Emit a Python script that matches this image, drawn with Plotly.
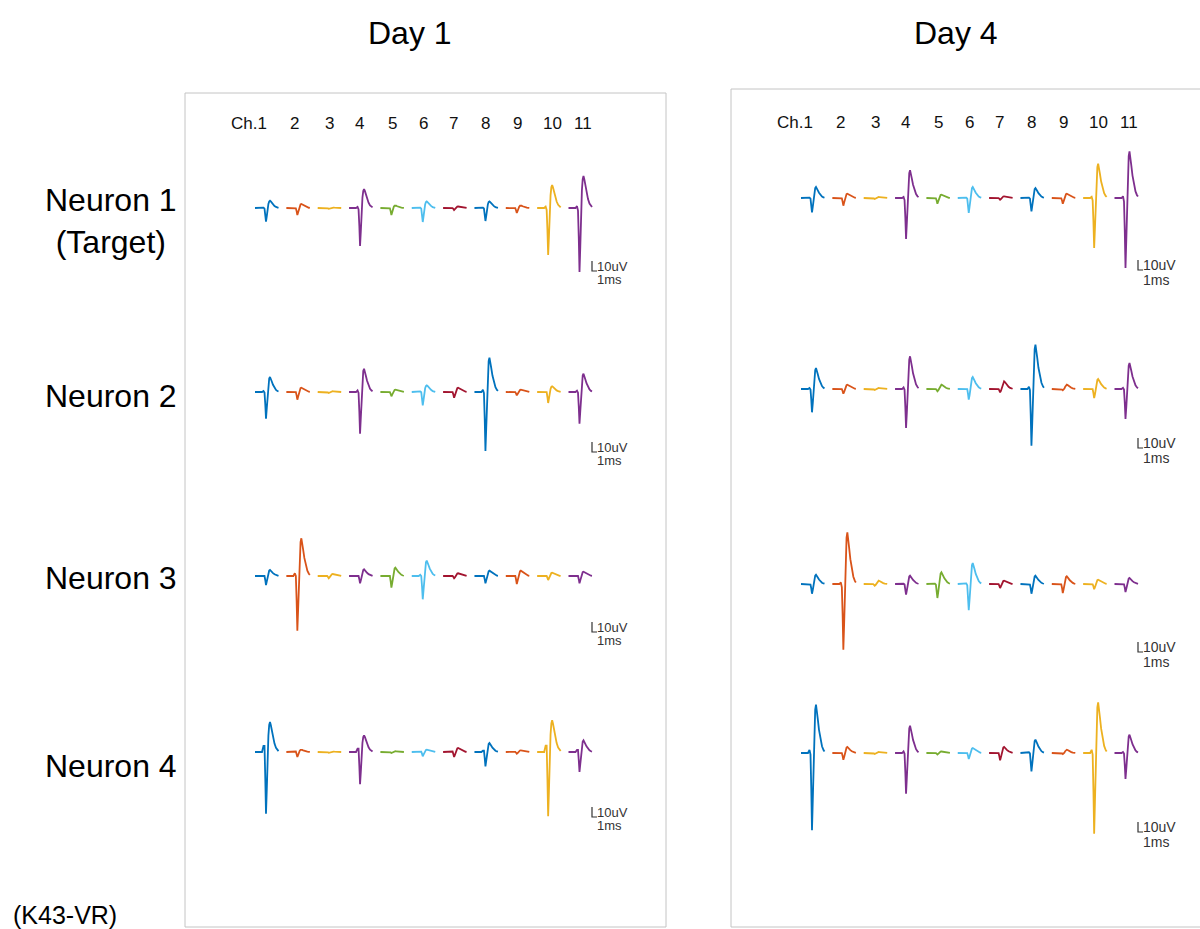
import plotly.graph_objects as go

# ---------------------------------------------------------------------------
# Data
# ---------------------------------------------------------------------------
CHANNEL_LABELS = ["Ch.1", "2", "3", "4", "5", "6", "7", "8", "9", "10", "11"]
CHANNEL_COLORS = ["#0072BD", "#D95319", "#EDB120", "#7E2F8E", "#77AC30", "#4DBEEE",
                  "#A2142F", "#0072BD", "#D95319", "#EDB120", "#7E2F8E"]
NEURON_LABELS = ["Neuron 1<br>(Target)", "Neuron 2", "Neuron 3", "Neuron 4"]
DAY_TITLES = ["Day 1", "Day 4"]
ANIMAL_ID = "(K43-VR)"

# normalised spike shape: time (ms) and the trough / peak / pre-bump components
TEMPLATE_MS = [0.0, 1.4, 1.7, 1.9, 2.06, 2.2, 2.36, 2.52, 2.68, 2.84, 3.0,
               3.16, 3.36, 3.6, 3.9, 4.2, 4.5, 4.7]
TEMPLATE_TROUGH = [0, 0, 0, -0.1, -0.5, -1.0, -0.6, -0.15, 0, 0, 0,
                   0, 0, 0, 0, 0, 0, 0]
TEMPLATE_PEAK = [0, 0, 0, 0, 0, 0, 0, 0.15, 0.55, 0.9, 1.0,
                 0.9, 0.7, 0.48, 0.28, 0.14, 0.06, 0.03]
TEMPLATE_PRE = [0, 0, 0.5, 1.0, 0.3, 0, 0, 0, 0, 0, 0,
                0, 0, 0, 0, 0, 0, 0]

# trough depth / peak height (uV) per channel, one row per neuron
DAY1_TROUGH_UV = [
    [13.7, 7.0, 0.8, 38.0, 7.0, 14.0, 2.0, 13.0, 5.0, 47.0, 64.0],
    [26.7, 7.7, 1.0, 41.7, 4.3, 13.3, 5.7, 59.0, 3.3, 11.0, 31.7],
    [9.0, 54.7, 2.3, 7.3, 11.7, 23.3, 2.3, 7.3, 8.0, 4.0, 7.3],
    [61.7, 5.0, 0.8, 32.3, 1.0, 4.3, 5.0, 14.3, 1.7, 64.3, 20.0],
]
DAY1_PEAK_UV = [
    [7.3, 4.0, 0.5, 19.0, 2.5, 6.6, 1.5, 6.6, 2.5, 23.0, 32.0],
    [15.0, 4.3, 0.8, 23.3, 2.3, 6.7, 4.3, 34.3, 2.3, 5.7, 18.3],
    [6.0, 37.7, 2.0, 6.7, 8.3, 15.3, 2.7, 5.3, 5.3, 3.3, 4.3],
    [30.0, 2.3, 0.5, 16.7, 0.8, 2.3, 4.0, 9.0, 1.7, 31.7, 11.7],
]
DAY4_TROUGH_UV = [
    [14.3, 7.7, 1.0, 41.0, 5.7, 15.0, 1.7, 13.3, 5.7, 50.0, 70.0],
    [23.3, 4.7, 1.0, 39.0, 2.3, 10.7, 3.3, 56.7, 1.3, 9.0, 30.0],
    [9.7, 65.7, 1.7, 10.7, 14.0, 26.3, 4.0, 9.7, 9.0, 5.3, 8.0],
    [77.3, 6.7, 1.0, 40.7, 1.5, 6.0, 7.3, 18.3, 1.0, 80.7, 26.0],
]
DAY4_PEAK_UV = [
    [11.0, 4.3, 1.0, 27.7, 3.3, 11.0, 1.7, 10.0, 4.3, 34.3, 46.7],
    [21.0, 4.3, 1.0, 32.7, 4.3, 12.0, 7.7, 44.3, 4.3, 10.0, 26.0],
    [9.3, 51.7, 3.3, 8.3, 11.7, 21.0, 3.3, 8.3, 7.7, 4.3, 6.0],
    [48.3, 6.0, 1.0, 27.3, 1.5, 5.0, 6.0, 13.3, 3.3, 50.7, 18.3],
]
# pre-trough bump as a fraction of trough depth, per neuron
DAY1_PRE_RATIO = [0.06, 0.08, 0.1, 0.2]
DAY4_PRE_RATIO = [0.05, 0.08, 0.05, 0.08]

SCALE_UV = 10
SCALE_MS = 1
SCALE_TEXT = ["10uV", "1ms"]

# ---------------------------------------------------------------------------
# Layout (pixels)
# ---------------------------------------------------------------------------
W, H = 1200, 929
PX_PER_MS = 5.0
PX_PER_UV = 1.0
FONT = "Liberation Sans, Arial, sans-serif"

CH_START_PX = 70.0     # first waveform start, from panel left
CH_STEP_PX = 31.35
LABEL_NUDGE_PX = [0, -3, 0, -1, 1, 0, -1, 0, 0, 4, 3]
LABEL_Y_PX = 123

panels = [
    dict(title=DAY_TITLES[0], left=185, right=666, top=93, bottom=927,
         baselines=[208, 392, 576, 752], bar_bottom=[271, 452, 632, 817],
         uv_up=5, ms_down=8, scale_font=13,
         trough=DAY1_TROUGH_UV, peak=DAY1_PEAK_UV, pre=DAY1_PRE_RATIO),
    dict(title=DAY_TITLES[1], left=731, right=1212, top=89, bottom=927,
         baselines=[198, 389, 584, 753], bar_bottom=[270, 448, 652, 832],
         uv_up=5, ms_down=10, scale_font=14,
         trough=DAY4_TROUGH_UV, peak=DAY4_PEAK_UV, pre=DAY4_PRE_RATIO),
]

fig = go.Figure()
annotations = []
shapes = []

for k, p in enumerate(panels):
    xa = "x" if k == 0 else "x2"
    ya = "y" if k == 0 else "y2"
    vis_right = min(p["right"], W)

    def dx(px, p=p):
        return (px - p["left"]) / PX_PER_MS

    def dy(py, p=p):
        return -(py - p["top"]) / PX_PER_UV

    # waveforms
    for n in range(4):
        base = dy(p["baselines"][n])
        for c in range(11):
            x0 = dx(p["left"] + CH_START_PX + c * CH_STEP_PX)
            T = p["trough"][n][c]
            P = p["peak"][n][c]
            R = p["pre"][n] * T
            xs = [x0 + t for t in TEMPLATE_MS]
            ys = [base + T * a + P * b + R * q
                  for a, b, q in zip(TEMPLATE_TROUGH, TEMPLATE_PEAK, TEMPLATE_PRE)]
            fig.add_trace(go.Scatter(
                x=xs, y=ys, mode="lines", xaxis=xa, yaxis=ya,
                line=dict(color=CHANNEL_COLORS[c], width=1.8),
                hoverinfo="skip", showlegend=False))

        # scale bar (10 uV x 1 ms)
        bx = dx(p["left"] + 407)
        by = dy(p["bar_bottom"][n])
        fig.add_trace(go.Scatter(
            x=[bx, bx, bx + SCALE_MS], y=[by + SCALE_UV, by, by],
            mode="lines", xaxis=xa, yaxis=ya,
            line=dict(color="#333333", width=1.2),
            hoverinfo="skip", showlegend=False))
        annotations.append(dict(
            x=bx + 0.6, y=by + p["uv_up"] / PX_PER_UV, xref=xa, yref=ya,
            text=SCALE_TEXT[0], showarrow=False, xanchor="left", yanchor="middle",
            font=dict(family=FONT, size=p["scale_font"], color="#333333")))
        annotations.append(dict(
            x=bx + 0.6, y=by - p["ms_down"] / PX_PER_UV, xref=xa, yref=ya,
            text=SCALE_TEXT[1], showarrow=False, xanchor="left", yanchor="middle",
            font=dict(family=FONT, size=p["scale_font"], color="#333333")))

    # channel labels
    for c, lab in enumerate(CHANNEL_LABELS):
        cx = p["left"] + CH_START_PX + c * CH_STEP_PX + 11.5 + LABEL_NUDGE_PX[c]
        if c == 0:
            annotations.append(dict(
                x=dx(cx + 2), y=dy(LABEL_Y_PX), xref=xa, yref=ya, text=lab,
                showarrow=False, xanchor="right", yanchor="middle",
                font=dict(family=FONT, size=17, color="#111111")))
        else:
            annotations.append(dict(
                x=dx(cx), y=dy(LABEL_Y_PX), xref=xa, yref=ya, text=lab,
                showarrow=False, xanchor="center", yanchor="middle",
                font=dict(family=FONT, size=17, color="#111111")))

    # panel frame
    shapes.append(dict(
        type="rect", xref="paper", yref="paper",
        x0=p["left"] / W, x1=p["right"] / W,
        y0=1 - p["bottom"] / H, y1=1 - p["top"] / H,
        line=dict(color="#c4c4c4", width=1), fillcolor="rgba(0,0,0,0)"))

    # day title
    annotations.append(dict(
        x=(p["left"] + 225) / W, y=1 - 33 / H, xref="paper", yref="paper",
        text=p["title"], showarrow=False, xanchor="center", yanchor="middle",
        font=dict(family=FONT, size=32, color="#000000")))

    axis_x = dict(domain=[p["left"] / W, vis_right / W],
                  range=[0, (vis_right - p["left"]) / PX_PER_MS],
                  visible=False, fixedrange=True)
    axis_y = dict(domain=[1 - p["bottom"] / H, 1 - p["top"] / H],
                  range=[-(p["bottom"] - p["top"]) / PX_PER_UV, 0],
                  visible=False, fixedrange=True)
    if k == 0:
        fig.update_layout(xaxis=axis_x, yaxis=axis_y)
    else:
        axis_y["anchor"] = "x2"
        axis_x["anchor"] = "y2"
        fig.update_layout(xaxis2=axis_x, yaxis2=axis_y)

# neuron labels
neuron_y_px = [201, 396, 578, 766]
for lab, ypx in zip(NEURON_LABELS, neuron_y_px):
    annotations.append(dict(
        x=111 / W, y=1 - ypx / H, xref="paper", yref="paper", text=lab,
        showarrow=False, xanchor="center", yanchor="top" if "<br>" in lab else "middle",
        yshift=21 if "<br>" in lab else 0,
        font=dict(family=FONT, size=32, color="#000000")))

annotations.append(dict(
    x=65 / W, y=1 - 915 / H, xref="paper", yref="paper", text=ANIMAL_ID,
    showarrow=False, xanchor="center", yanchor="middle",
    font=dict(family=FONT, size=25, color="#000000")))

fig.update_layout(
    width=W, height=H, margin=dict(l=0, r=0, t=0, b=0),
    paper_bgcolor="white", plot_bgcolor="rgba(0,0,0,0)",
    annotations=annotations, shapes=shapes, showlegend=False)

fig.write_html("out.html")
